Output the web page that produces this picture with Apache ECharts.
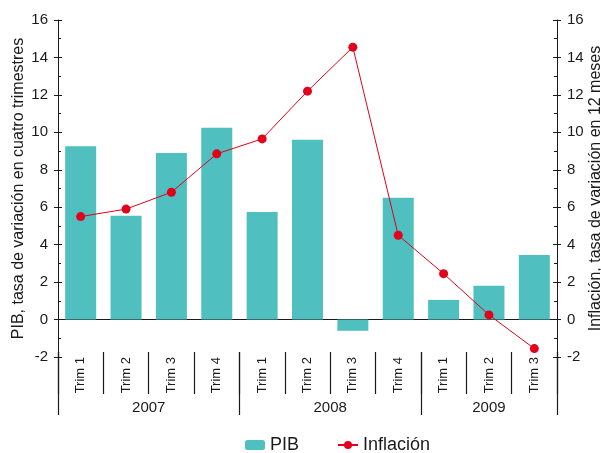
<!DOCTYPE html>
<html lang="es">
<head>
    <meta charset="utf-8">
    <title>PIB e inflación</title>
    <script src="https://cdn.jsdelivr.net/npm/echarts@6/dist/echarts.min.js"></script>
    <style>
        html, body { margin: 0; padding: 0; background: #fff; }
        #main { width: 601px; height: 453px; }
    </style>
</head>
<body>
<div id="main"></div>
<script type="text/javascript">
    // datos
    var trimestres = ['Trim 1', 'Trim 2', 'Trim 3', 'Trim 4', 'Trim 1', 'Trim 2', 'Trim 3', 'Trim 4', 'Trim 1', 'Trim 2', 'Trim 3'];
    var anios = ['2007', '2008', '2009'];
    var trimPorAnio = [4, 4, 3];
    var pib = [9.25, 5.55, 8.9, 10.25, 5.75, 9.6, -0.6, 6.5, 1.05, 1.8, 3.45];
    var inflacion = [5.5, 5.9, 6.8, 8.85, 9.65, 12.2, 14.55, 4.5, 2.45, 0.25, -1.55];
    var ejeValores = { min: -2, max: 16, interval: 2 };

    var fuente = "'Liberation Sans', Arial, Helvetica, sans-serif";
    var negro = '#1a1a1a';

    // límites y centros de los años (en unidades de trimestre)
    var limites = [0], centros = [], acum = 0;
    for (var i = 0; i < trimPorAnio.length; i++) {
        centros.push(acum + trimPorAnio[i] / 2);
        acum += trimPorAnio[i];
        limites.push(acum);
    }

    function ejeY(pos, principal) {
        return {
            type: 'value',
            position: pos,
            min: ejeValores.min,
            max: ejeValores.max,
            interval: ejeValores.interval,
            name: principal || '',
            nameLocation: 'middle',
            nameRotate: 90,
            nameGap: pos === 'left' ? 31 : 31,
            nameMoveOverlap: false,
            nameTextStyle: { fontFamily: fuente, fontSize: 16, color: negro },
            splitLine: { show: false },
            axisLine: { show: !!principal, onZero: false, lineStyle: { color: negro, width: 1 } },
            axisTick: { show: true, inside: !!principal, length: 4, lineStyle: { color: negro } },
            minorTick: { show: !!principal, splitNumber: 2, length: 3, lineStyle: { color: negro } },
            axisLabel: { show: !!principal, margin: 10, fontFamily: fuente, fontSize: 15, color: negro }
        };
    }

    var myChart = echarts.init(document.getElementById('main'));
    var option = {
        animation: false,
        grid: { left: 58, right: 44, top: 20, bottom: 96, outerBoundsMode: 'none' },
        legend: {
            left: 240,
            top: 431,
            itemWidth: 20,
            itemHeight: 10,
            itemGap: 38,
            textStyle: { fontFamily: fuente, fontSize: 18, color: negro },
            data: ['PIB', 'Inflación']
        },
        xAxis: [{
            // línea del cero
            type: 'category',
            data: trimestres,
            axisLine: { onZero: true, onZeroAxisIndex: 0, lineStyle: { color: negro, width: 1.2 } },
            axisTick: { show: false },
            axisLabel: { show: false }
        }, {
            // etiquetas de trimestres
            type: 'category',
            data: trimestres,
            position: 'bottom',
            offset: -5,
            axisLine: { show: false, onZero: false },
            axisTick: { show: true, interval: 0, length: 42, alignWithLabel: false, lineStyle: { color: negro, width: 1.2 } },
            axisLabel: { interval: 0, rotate: 90, margin: 5, fontFamily: fuente, fontSize: 13, color: negro }
        }, {
            // años
            type: 'value',
            position: 'bottom',
            offset: -5,
            min: 0,
            max: trimestres.length,
            splitLine: { show: false },
            axisLine: { show: false, onZero: false },
            axisTick: { show: true, customValues: limites, length: 63, lineStyle: { color: negro, width: 1.2 } },
            axisLabel: {
                customValues: centros,
                margin: 48,
                fontFamily: fuente,
                fontSize: 15,
                color: negro,
                formatter: function (v) {
                    var k = centros.indexOf(v);
                    return k >= 0 ? anios[k] : '';
                }
            }
        }],
        yAxis: [
            ejeY('left', 'PIB, tasa de variación en cuatro trimestres'),
            ejeY('right', 'Inflación, tasa de variación en 12 meses'),
            ejeY('left', null),
            ejeY('right', null)
        ],
        series: [{
            name: 'PIB',
            type: 'bar',
            xAxisIndex: 0,
            yAxisIndex: 0,
            barWidth: 31,
            itemStyle: { color: '#4fbfbf' },
            data: pib
        }, {
            name: 'Inflación',
            type: 'line',
            xAxisIndex: 0,
            yAxisIndex: 1,
            symbol: 'circle',
            symbolSize: 9,
            itemStyle: { color: '#e2001a' },
            lineStyle: { color: '#e2001a', width: 1 },
            data: inflacion
        }]
    };
    myChart.setOption(option);
</script>
</body>
</html>
